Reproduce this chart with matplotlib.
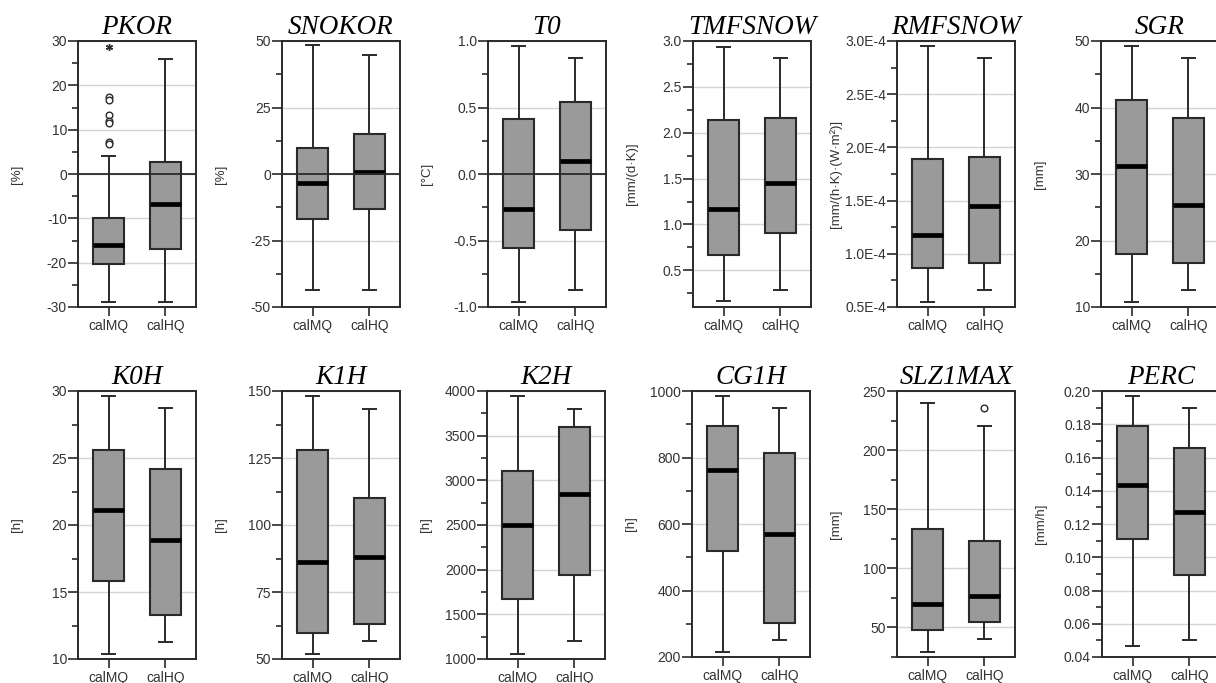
import numpy as np
import matplotlib
matplotlib.use('Agg')
import matplotlib.pyplot as plt
from matplotlib.ticker import MultipleLocator, FormatStrFormatter, FuncFormatter

plt.rcParams['font.family'] = ['Liberation Sans', 'DejaVu Sans']
plt.rcParams['axes.unicode_minus'] = False

groups = ['calMQ', 'calHQ']
params = ['PKOR', 'SNOKOR', 'T0', 'TMFSNOW', 'RMFSNOW', 'SGR',
          'K0H', 'K1H', 'K2H', 'CG1H', 'SLZ1MAX', 'PERC']
units = ['[%]', '[%]', '[°C]', '[mm/(d·K)]', '[mm/(h·K)·(W·m²)]', '[mm]',
         '[h]', '[h]', '[h]', '[h]', '[mm]', '[mm/h]']

# whisker low, Q1, median, Q3, whisker high  (calMQ, calHQ)
pkor    = [[-28.9, -20.4, -16.1, -10.0, 4.0],   [-28.9, -17.0, -6.8, 2.8, 26.0]]
snokor  = [[-43.5, -17.0, -3.4, 9.7, 48.5],     [-43.5, -13.1, 0.8, 15.1, 44.7]]
t0      = [[-0.96, -0.56, -0.26, 0.41, 0.96],   [-0.87, -0.42, 0.10, 0.54, 0.87]]
tmfsnow = [[0.16, 0.67, 1.17, 2.14, 2.94],      [0.29, 0.91, 1.45, 2.16, 2.81]]
rmfsnow = [[0.55e-4, 0.87e-4, 1.18e-4, 1.89e-4, 2.95e-4],
           [0.66e-4, 0.91e-4, 1.45e-4, 1.91e-4, 2.84e-4]]
sgr     = [[10.8, 17.9, 31.2, 41.1, 49.2],      [12.6, 16.6, 25.4, 38.4, 47.4]]
k0h     = [[10.4, 15.8, 21.1, 25.6, 29.6],      [11.3, 13.3, 18.9, 24.2, 28.7]]
k1h     = [[52.0, 59.8, 86.3, 127.8, 148.0],    [56.6, 63.0, 87.9, 109.9, 143.3]]
k2h     = [[1060, 1670, 2505, 3108, 3940],      [1198, 1937, 2843, 3601, 3802]]
cg1h    = [[214, 518, 763, 895, 984],           [251, 303, 571, 814, 948]]
slz1max = [[29.4, 47.5, 69.7, 133.4, 240.0],    [40.0, 54.5, 77.0, 123.0, 220.4]]
perc    = [[0.0466, 0.1107, 0.1434, 0.1789, 0.1968],
           [0.0502, 0.0896, 0.1273, 0.1657, 0.1896]]

# outliers (circles) and extreme values (asterisks)
pkor_out_mq = [17.3, 16.8, 13.3, 12.0, 11.4, 7.3, 6.8]
pkor_ext_mq = [28.6]
slz_out_hq = [235.4]

summaries = [pkor, snokor, t0, tmfsnow, rmfsnow, sgr,
             k0h, k1h, k2h, cg1h, slz1max, perc]
fliers = {0: [pkor_out_mq, []], 10: [[], slz_out_hq]}
extremes = {0: [pkor_ext_mq, []]}

ylims = [(-30, 30), (-50, 50), (-1, 1), (0.1, 3.0), (0.5e-4, 3.0e-4), (10, 50),
         (10, 30), (50, 150), (1000, 4000), (200, 1000), (25, 250), (0.04, 0.20)]
majors = [10, 25, 0.5, 0.5, 0.5e-4, 10, 5, 25, 500, 200, 50, 0.02]
fmts = ['%d', '%d', '%.1f', '%.1f', None, '%d', '%d', '%d', '%d', '%d', '%d', '%.2f']
zero_line = {0, 1, 2}

W, H = 1216, 683
lefts = [78, 282, 488, 693, 897, 1101, 78, 282, 487, 692, 897, 1102]
tops = [41] * 6 + [391] * 6
bottoms = [307] * 6 + [659, 659, 659, 657, 657, 657]
AW = 118

fig = plt.figure(figsize=(W / 100, H / 100), dpi=100)
dark = '#2a2a2a'

for i, name in enumerate(params):
    l, t, b = lefts[i], tops[i], bottoms[i]
    ax = fig.add_axes([l / W, 1 - b / H, AW / W, (b - t) / H])

    stats = []
    for j, g in enumerate(groups):
        lo, q1, med, q3, hi = summaries[i][j]
        fl = fliers.get(i, [[], []])[j]
        stats.append(dict(label=g, whislo=lo, q1=q1, med=med, q3=q3, whishi=hi,
                          fliers=np.array(fl)))

    ax.bxp(stats, positions=[1, 2], widths=0.55, capwidths=0.22,
           patch_artist=True, showfliers=True,
           boxprops=dict(facecolor='#9a9a9a', edgecolor=dark, linewidth=1.5),
           medianprops=dict(color='black', linewidth=3.4, solid_capstyle='butt'),
           whiskerprops=dict(color=dark, linewidth=1.4),
           capprops=dict(color=dark, linewidth=1.4),
           flierprops=dict(marker='o', markerfacecolor='white', markeredgecolor=dark,
                           markersize=4.8, markeredgewidth=1.0))
    for j, ex in enumerate(extremes.get(i, [[], []])):
        if ex:
            ax.plot([j + 1] * len(ex), ex, ls='none', marker=(6, 2, 0),
                    color=dark, ms=5, mew=1.0)

    if i in zero_line:
        ax.axhline(0, color=dark, lw=1.3, zorder=5)

    ax.set_xlim(0.46, 2.54)
    ax.set_ylim(*ylims[i])
    ax.yaxis.set_major_locator(MultipleLocator(majors[i]))
    ax.yaxis.set_minor_locator(MultipleLocator(majors[i] / 2))
    if fmts[i] is None:
        ax.yaxis.set_major_formatter(FuncFormatter(lambda v, p: f"{v * 1e4:.1f}E-4"))
    else:
        ax.yaxis.set_major_formatter(FormatStrFormatter(fmts[i]))

    ax.yaxis.grid(True, which='major', color='#d4d4d4', lw=1.0)
    ax.set_axisbelow(True)

    for s in ax.spines.values():
        s.set_color(dark)
        s.set_linewidth(1.4)

    ax.tick_params(axis='y', which='major', length=7.5, width=1.2, color=dark,
                   labelsize=10, labelcolor='#333333', pad=0.5)
    ax.tick_params(axis='y', which='minor', length=4, width=1.2, color=dark)
    ax.tick_params(axis='x', which='major', length=6.5, width=1.2, color=dark,
                   labelsize=10, labelcolor='#333333', pad=2)
    ax.set_xticks([1, 2], groups)

    ax.set_title(name, fontfamily='Liberation Serif', fontstyle='italic',
                 fontsize=19.5, pad=5)
    ax.set_ylabel(units[i], fontsize=9.5, color='#333333')
    ax.yaxis.label.set_va('center')
    ax.yaxis.set_label_coords(-61 / AW, 0.5)

fig.savefig('out.png', dpi=100)
